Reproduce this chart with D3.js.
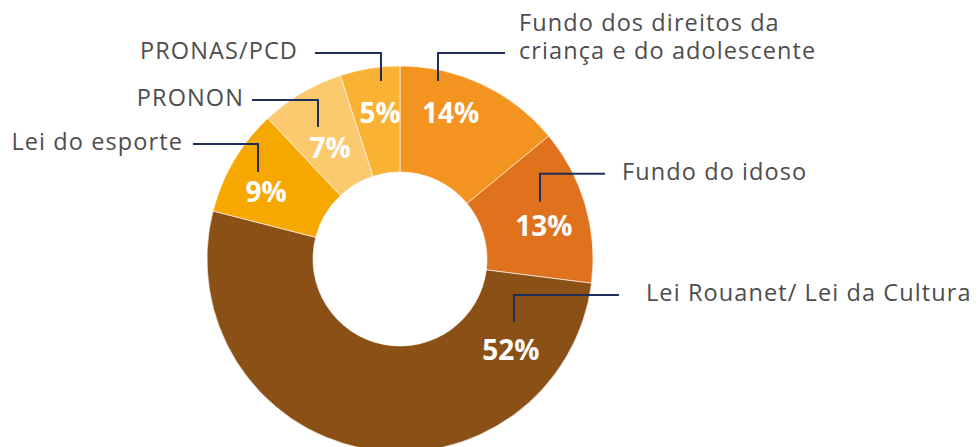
<!DOCTYPE html>
<html>
<head>
<meta charset="utf-8">
<script src="https://cdn.jsdelivr.net/npm/d3@7"></script>
<style>
  html, body { margin: 0; padding: 0; background: #ffffff; }
  svg { display: block; }
</style>
</head>
<body>
<svg id="chart" width="979" height="447"></svg>
<script>
// ---- data ----
const categories = [
  "Fundo dos direitos da criança e do adolescente",
  "Fundo do idoso",
  "Lei Rouanet/ Lei da Cultura",
  "Lei do esporte",
  "PRONON",
  "PRONAS/PCD"
];
const values = [14, 13, 52, 9, 7, 5];
const valueLabels = ["14%", "13%", "52%", "9%", "7%", "5%"];
const labelLines = [
  ["Fundo dos direitos da", "criança e do adolescente"],
  ["Fundo do idoso"],
  ["Lei Rouanet/ Lei da Cultura"],
  ["Lei do esporte"],
  ["PRONON"],
  ["PRONAS/PCD"]
];
const colors = ["#F39320", "#E0711D", "#8B5016", "#F7A800", "#FBC96E", "#F9B233"];

// ---- layout (styling/placement) ----
const W = 979, H = 447;
const cx = 400, cy = 259, rOuter = 193, rInner = 87;
// percent label placement: polar angle (deg, clockwise from top) and radius
const pctPolar = [[19.1, 154.5], [77.1, 147.7], [129.2, 143.2], [296.6, 149.8], [327.8, 131], [352.2, 147.4]];
// leader: anchor polar [deg, r], vertical rise, horizontal run (signed), text gap
const leaders = [
  { a: 12.05, r: 182, rise: 28, run: 67, gap: 14 },
  { a: 67.8, r: 151.2, rise: 28, run: 65, gap: 17 },
  { a: 118.9, r: 130.2, rise: 27, run: 105, gap: 27 },
  { a: 301.5, r: 166.5, rise: 28, run: -65, gap: 10 },
  { a: 328.15, r: 155.4, rise: 27, run: -66, gap: 8 },
  { a: 353.9, r: 179, rise: 28, run: -66, gap: 17 }
];
const textFont = "'Open Sans', 'Noto Sans', sans-serif";

const svg = d3.select("#chart");
const g = svg.append("g").attr("transform", `translate(${cx},${cy})`);

const pie = d3.pie().sort(null).value(d => d)(values);
const arc = d3.arc().innerRadius(rInner).outerRadius(rOuter);

g.selectAll("path.slice")
  .data(pie)
  .join("path")
  .attr("class", "slice")
  .attr("d", arc)
  .attr("fill", (d, i) => colors[i])
  .attr("stroke", "#ffffff")
  .attr("stroke-width", 0.6);

const rad = deg => deg * Math.PI / 180;

// percent labels
g.selectAll("text.pct")
  .data(pie)
  .join("text")
  .attr("class", "pct")
  .attr("x", (d, i) => d3.pointRadial(rad(pctPolar[i][0]), pctPolar[i][1])[0])
  .attr("y", (d, i) => d3.pointRadial(rad(pctPolar[i][0]), pctPolar[i][1])[1])
  .attr("dy", "0.36em")
  .attr("text-anchor", "middle")
  .attr("font-family", textFont)
  .attr("font-weight", 700)
  .attr("font-size", 28)
  .attr("fill", "#ffffff")
  .text((d, i) => valueLabels[i]);

// leader lines and category labels
const lineGen = d3.line();
leaders.forEach((L, i) => {
  const p0 = d3.pointRadial(rad(L.a), L.r);
  const p1 = [p0[0], p0[1] - L.rise];
  const p2 = [p0[0] + L.run, p1[1]];
  g.append("path")
    .attr("d", lineGen([p0, p1, p2]))
    .attr("fill", "none")
    .attr("stroke", "#1F2D5A")
    .attr("stroke-width", 2);

  const right = L.run > 0;
  const lines = labelLines[i];
  const tx = p2[0] + (right ? L.gap : -L.gap);
  const lh = 28;
  const lastBaseline = p2[1] + 6;
  lines.forEach((s, k) => {
    g.append("text")
      .attr("x", tx)
      .attr("y", lastBaseline - (lines.length - 1 - k) * lh)
      .attr("text-anchor", right ? "start" : "end")
      .attr("font-family", textFont)
      .attr("font-size", 23.5)
      .attr("letter-spacing", 1.1)
      .attr("fill", "#4D4D4D")
      .text(s);
  });
});
</script>
</body>
</html>
